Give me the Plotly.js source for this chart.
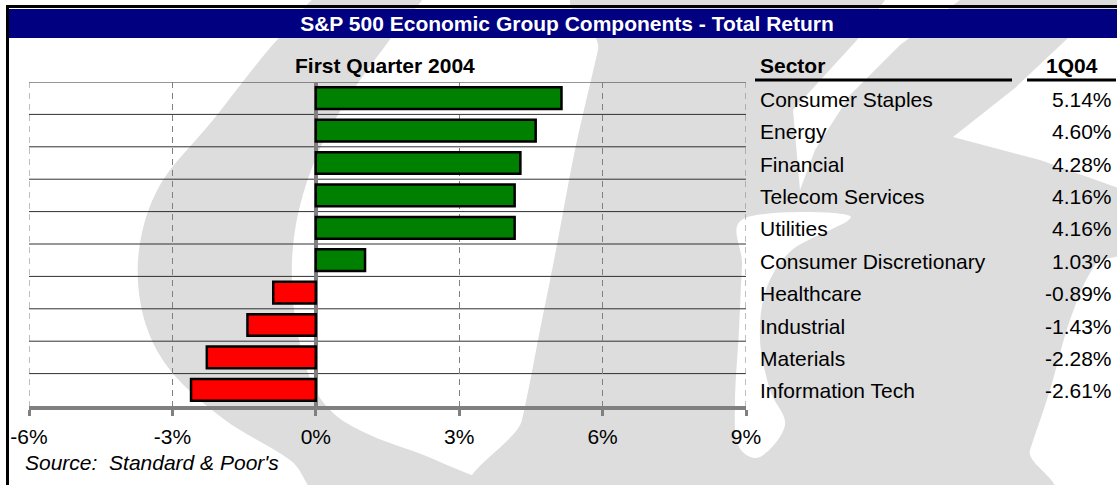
<!DOCTYPE html>
<html><head><meta charset="utf-8">
<script src="https://cdn.plot.ly/plotly-3.0.1.min.js"></script>
<style>html,body{margin:0;padding:0;background:#fff;overflow:hidden}#chart{width:1117px;height:485px}</style>
</head><body><div id="chart"></div>
<script>
// ---- data ----
const sectors = ["Consumer Staples","Energy","Financial","Telecom Services","Utilities","Consumer Discretionary","Healthcare","Industrial","Materials","Information Tech"];
const returns1Q04 = [5.14,4.60,4.28,4.16,4.16,1.03,-0.89,-1.43,-2.28,-2.61];
const returnLabels = ["5.14%","4.60%","4.28%","4.16%","4.16%","1.03%","-0.89%","-1.43%","-2.28%","-2.61%"];
const xTickVals = [-6,-3,0,3,6,9];
const xTickText = ["-6%","-3%","0%","3%","6%","9%"];
const chartTitle = "S&P 500 Economic Group Components - Total Return";
const chartSubtitle = "First Quarter 2004";
const tableHeaders = ["Sector","1Q04"];
const sourceNote = "Source:\u00A0 Standard & Poor's";

// ---- layout helpers (pixel -> paper) ----
const W = 1117, H = 485;
const px = x => x / W, py = y => 1 - y / H;
const P = p => px(p[0]).toFixed(5) + ',' + py(p[1]).toFixed(5);
function poly(pts){ return 'M' + pts.map(P).join(' L') + ' Z'; }
function smooth(pts){
  const n = pts.length; let d = 'M' + P(pts[0]);
  for (let i = 0; i < n; i++) {
    const p0 = pts[(i-1+n)%n], p1 = pts[i], p2 = pts[(i+1)%n], p3 = pts[(i+2)%n];
    const c1 = [p1[0] + (p2[0]-p0[0])/6, p1[1] + (p2[1]-p0[1])/6];
    const c2 = [p2[0] - (p3[0]-p1[0])/6, p2[1] - (p3[1]-p1[1])/6];
    d += ' C' + P(c1) + ' ' + P(c2) + ' ' + P(p2);
  }
  return d + ' Z';
}
const FONT = "Liberation Sans, Arial, sans-serif";
const WM = '#DDDDDD';

const shapes = [];
// watermark (decorative)
shapes.push({type:'path', xref:'paper', yref:'paper', layer:'below', line:{width:0}, fillcolor:WM,
  path: smooth([[335,-15],[277,40],[213,120],[160,185],[139,250],[143,315],[170,370],[225,420],[290,460],[340,505],[520,505],[440,462],[370,435],[330,410],[307,370],[293,300],[295,230],[315,160],[350,95],[393,35],[425,-15]])});
shapes.push({type:'path', xref:'paper', yref:'paper', layer:'below', line:{width:0}, fillcolor:WM,
  path: smooth([[500,505],[522,420],[540,330],[556,250],[575,150],[598,50],[612,-15],[1135,-15],[1135,225],[1095,265],[1070,320],[1050,390],[1030,450],[1013,505]])});
shapes.push({type:'path', xref:'paper', yref:'paper', layer:'below', line:{width:0}, fillcolor:'#FFFFFF',
  path: poly([[1068,38],[1130,38],[1130,192],[1040,160],[953,137],[1015,88]])});
shapes.push({type:'path', xref:'paper', yref:'paper', layer:'below', line:{width:0}, fillcolor:'#FFFFFF',
  path: poly([[885,0],[960,0],[900,45],[850,95],[815,150],[800,190],[793,110],[857,40]])});
shapes.push({type:'path', xref:'paper', yref:'paper', layer:'below', line:{width:0}, fillcolor:'#FFFFFF',
  path: smooth([[745,218],[850,216],[792,250],[766,290],[760,340],[770,390],[785,425],[760,457],[738,445],[735,400],[739,330],[742,265]])});

// row separator lines (between categories)
for (let i = 0; i < sectors.length; i++) {
  shapes.push({type:'line', xref:'x', yref:'y', layer:'below', x0:xTickVals[0], x1:xTickVals[xTickVals.length-1],
    y0:i-0.5, y1:i-0.5, line:{color:'#303030', width:1}});
}
// dashed guides at the two range edges
[xTickVals[0], xTickVals[xTickVals.length-1]].forEach(v => {
  shapes.push({type:'line', xref:'x', yref:'y', layer:'below', x0:v, x1:v, y0:-0.5, y1:sectors.length-0.5,
    line:{color:'#808080', width:1, dash:'6px,5px'}});
});
// frame & title bar
shapes.push({type:'rect', xref:'paper', yref:'paper', layer:'above', x0:px(9), x1:px(1117), y0:py(38), y1:py(9), fillcolor:'#000080', line:{width:0}});
shapes.push({type:'line', xref:'paper', yref:'paper', layer:'above', x0:px(6), x1:px(1117), y0:py(6.5), y1:py(6.5), line:{color:'#000', width:3}});
shapes.push({type:'line', xref:'paper', yref:'paper', layer:'above', x0:px(7.5), x1:px(7.5), y0:py(5), y1:py(485), line:{color:'#000', width:3}});
// table header underlines
shapes.push({type:'line', xref:'paper', yref:'paper', layer:'above', x0:px(755), x1:px(1012), y0:py(80), y1:py(80), line:{color:'#000', width:3}});
shapes.push({type:'line', xref:'paper', yref:'paper', layer:'above', x0:px(1027), x1:px(1116), y0:py(80), y1:py(80), line:{color:'#000', width:3}});

const annotations = [];
annotations.push({xref:'paper', yref:'paper', x:px(385), y:py(66), xanchor:'center', yanchor:'middle', showarrow:false,
  text:'<b>'+chartSubtitle+'</b>', font:{family:FONT, size:21, color:'#000'}});
annotations.push({xref:'paper', yref:'paper', x:px(758), y:py(66), xanchor:'left', yanchor:'middle', showarrow:false,
  text:'<b>'+tableHeaders[0]+'</b>', font:{family:FONT, size:21, color:'#000'}});
annotations.push({xref:'paper', yref:'paper', x:px(1100), y:py(66), xanchor:'right', yanchor:'middle', showarrow:false,
  text:'<b>'+tableHeaders[1]+'</b>', font:{family:FONT, size:21, color:'#000'}});
sectors.forEach((s, i) => {
  annotations.push({xref:'paper', yref:'y', x:px(758), y:s, xanchor:'left', yanchor:'middle', yshift:-1, showarrow:false,
    text:s, font:{family:FONT, size:21, color:'#000'}});
  annotations.push({xref:'paper', yref:'y', x:px(1114), y:s, xanchor:'right', yanchor:'middle', yshift:-1, showarrow:false,
    text:returnLabels[i], font:{family:FONT, size:21, color:'#000'}});
});
annotations.push({xref:'paper', yref:'paper', x:px(23), y:py(462), xanchor:'left', yanchor:'middle', showarrow:false,
  text:'<i>'+sourceNote+'</i>', font:{family:FONT, size:21, color:'#000'}});

const trace = {
  type:'bar', orientation:'h', y:sectors, x:returns1Q04,
  marker:{color:returns1Q04.map(v => v >= 0 ? '#008000' : '#FF0000'), line:{color:'#000', width:2.5}},
  hoverinfo:'skip'
};

const layout = {
  width:W, height:H, margin:{l:0, r:0, t:0, b:0},
  paper_bgcolor:'#FFFFFF', plot_bgcolor:'rgba(0,0,0,0)', showlegend:false, bargap:0.33,
  title:{text:'<b>'+chartTitle+'</b>', x:px(567), xanchor:'center', y:py(24), yanchor:'middle', yref:'container',
    font:{family:FONT, size:21, color:'#FFFFFF'}},
  xaxis:{domain:[px(29), px(746)], range:[xTickVals[0], xTickVals[xTickVals.length-1]], tickvals:xTickVals, ticktext:xTickText,
    showgrid:true, gridcolor:'#808080', gridwidth:1, griddash:'6px,5px',
    zeroline:true, zerolinecolor:'#808080', zerolinewidth:4,
    showline:true, linecolor:'#808080', linewidth:4, ticks:'outside', ticklen:6, tickwidth:3, tickcolor:'#808080',
    ticklabelstandoff:3,
    tickfont:{family:FONT, size:21, color:'#000'}, fixedrange:true},
  yaxis:{domain:[py(406), py(82)], type:'category', range:[sectors.length-0.5, -0.5], showticklabels:false,
    showgrid:false, zeroline:false, showline:false, ticks:'', fixedrange:true},
  shapes:shapes, annotations:annotations
};

Plotly.newPlot('chart', [trace], layout, {displayModeBar:false, staticPlot:true});
</script>
</body></html>
